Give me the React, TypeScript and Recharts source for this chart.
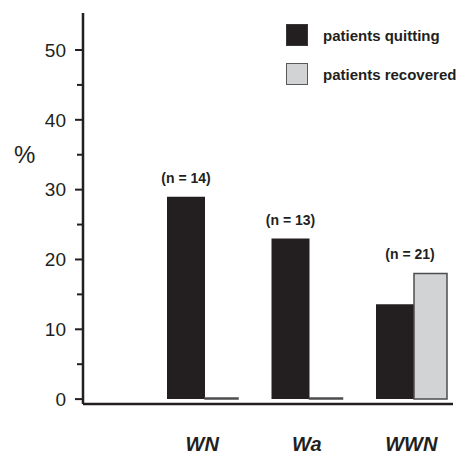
import { BarChart, Bar, XAxis, YAxis, Legend, LabelList, Label } from "recharts";

const categories = ["WN", "Wa", "WWN"];
const quitting = [29, 23, 13.6];
const recovered = [0, 0, 18];
const sampleSizes = [14, 13, 21];
const yTicks = [0, 5, 10, 15, 20, 25, 30, 35, 40, 45, 50];
const seriesNames = ["patients quitting", "patients recovered"];

const INK = "#231f20";
const GREY = "#d1d3d4";
const FONT = "'Liberation Sans', Arial, sans-serif";

const data = categories.map((name, i) => ({
  name,
  quitting: quitting[i],
  recovered: recovered[i],
  n: sampleSizes[i],
}));

function YTick({ x, y, payload }: any) {
  const major = payload.value % 10 === 0;
  return (
    <g>
      <line x1={x - (major ? 8 : 6)} x2={x} y1={y} y2={y} stroke={INK} strokeWidth={2} />
      {major && (
        <text x={x - 17} y={y} dy="0.36em" textAnchor="end" fontSize={19} fontFamily={FONT} fill={INK}>
          {payload.value}
        </text>
      )}
    </g>
  );
}

// n label sits above the taller bar of each group
function SampleLabel({ x, y, width, height, value, index }: any) {
  const unit = height / quitting[index];
  const top = Math.max(quitting[index], recovered[index]);
  const topY = y + height - top * unit;
  const cx = recovered[index] > 0 ? x + width - 4 : x + width / 2;
  return (
    <text x={cx} y={topY - 19} dy="0.36em" textAnchor="middle" fontSize={14} fontWeight="bold" fontFamily={FONT} fill={INK}>
      {`(n = ${value})`}
    </text>
  );
}

function LegendBox() {
  const fills = [INK, GREY];
  const borders = ["#3a3637", "#58595b"];
  return (
    <div style={{ fontFamily: FONT }}>
      {seriesNames.map((s, i) => (
        <div key={s} style={{ display: "flex", alignItems: "center", height: 22, marginBottom: 17 }}>
          <div
            style={{
              width: 20,
              height: 20,
              background: fills[i],
              border: `1px solid ${borders[i]}`,
              marginRight: 15,
            }}
          />
          <span style={{ fontSize: 15, fontWeight: "bold", color: INK, whiteSpace: "nowrap" }}>{s}</span>
        </div>
      ))}
    </div>
  );
}

export default function App() {
  return (
    <div style={{ position: "absolute", left: 0, top: 0, background: "#fff" }}>
      <BarChart
        width={459}
        height={456}
        data={data}
        margin={{ top: 13, right: 6, bottom: 0, left: 0 }}
        barGap={0}
      >
        <XAxis
          dataKey="name"
          height={52}
          padding={{ left: 67, right: -10.5 }}
          axisLine={{ stroke: INK, strokeWidth: 2.5 }}
          tickLine={false}
          tickSize={0}
          tickMargin={33}
          tick={{ fill: INK, fontSize: 20, fontWeight: "bold", fontStyle: "italic", fontFamily: FONT }}
        />
        <YAxis
          type="number"
          width={83}
          domain={[-0.7, 55.3]}
          allowDataOverflow
          ticks={yTicks}
          interval={0}
          axisLine={{ stroke: INK, strokeWidth: 2.5 }}
          tickLine={false}
          tickSize={0}
          tickMargin={0}
          tick={<YTick />}
        >
          <Label
            content={({ viewBox }: any) => (
              <text x={viewBox.x + 14} y={viewBox.y + 150} fontSize={24} fontFamily={FONT} fill={INK}>
                %
              </text>
            )}
          />
        </YAxis>
        <Legend
          layout="vertical"
          align="center"
          verticalAlign="middle"
          wrapperStyle={{ top: 24, left: 286, width: "auto" }}
          content={() => <LegendBox />}
        />
        <Bar dataKey="quitting" barSize={38} fill={INK} isAnimationActive={false}>
          <LabelList dataKey="n" content={<SampleLabel />} />
        </Bar>
        <Bar
          dataKey="recovered"
          barSize={33}
          fill={GREY}
          stroke="#4d4d4f"
          strokeWidth={1.5}
          minPointSize={1}
          isAnimationActive={false}
        />
      </BarChart>
    </div>
  );
}
